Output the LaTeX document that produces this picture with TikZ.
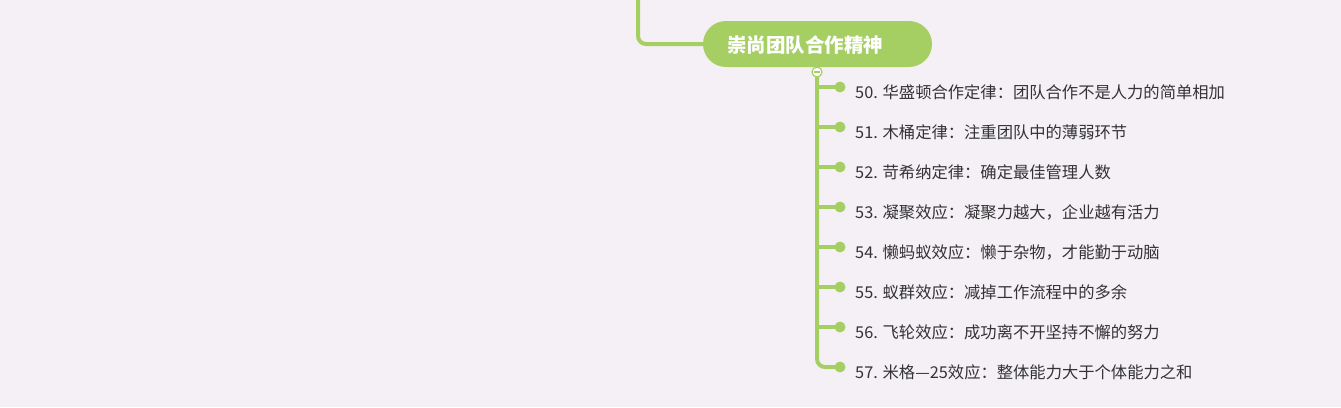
\documentclass[tikz,border=0pt]{standalone}
\usepackage{fontspec}
\setmainfont{Noto Sans CJK SC}
\newfontfamily\cjk{Noto Sans CJK SC}
\definecolor{bgc}{RGB}{244,240,246}
\definecolor{leaf}{RGB}{166,207,99}
\definecolor{txt}{RGB}{51,51,51}
\tikzset{
  conn/.style={draw=leaf,line width=4pt,rounded corners=8pt},
  branch/.style={draw=leaf,line width=3.5pt},
  dotnode/.style={circle,fill=leaf,inner sep=0pt,minimum size=11pt},
  item/.style={anchor=west,inner sep=0pt,text=txt,font=\cjk\fontsize{16.3}{18}\selectfont},
  topic/.style={rounded rectangle,fill=leaf,minimum width=229pt,minimum height=46pt,inner sep=0pt},
}
\usetikzlibrary{shapes.misc}
\begin{document}
\begin{tikzpicture}[x=1pt,y=-1pt]
\useasboundingbox[fill=bgc] (0,0) rectangle (1341,407);
\coordinate (up) at (638,0);
\node[topic] (main) at (817.5,44) {};
\node[anchor=west,inner sep=0pt,text=white,font=\cjk\bfseries\fontsize{19.5}{21}\selectfont] (maintext) at (727,45) {崇尚团队合作精神};
\draw[conn] (up) |- (main.west);
% trunk
\coordinate (trtop) at (817,72);
\foreach \i [count=\k from 0] in {50,...,57}{
  \node[dotnode] (d\i) at (840,87+40*\k) {};
}
\draw[conn] (trtop) |- (d57.center);
\foreach \i in {50,...,56}{
  \draw[branch] (817,0 |- d\i) -- (d\i.center);
}
\node[circle,draw=leaf,fill=white,line width=1.2pt,inner sep=0pt,minimum size=10pt] (col) at (trtop) {};
\draw[leaf,line width=1.2pt] ([xshift=-2.8pt]col.center) -- ([xshift=2.8pt]col.center);
\node[item] (t50) at (855,92) {50. 华盛顿合作定律：团队合作不是人力的简单相加};
\node[item] (t51) at (855,132) {51. 木桶定律：注重团队中的薄弱环节};
\node[item] (t52) at (855,172) {52. 苛希纳定律：确定最佳管理人数};
\node[item] (t53) at (855,212) {53. 凝聚效应：凝聚力越大，企业越有活力};
\node[item] (t54) at (855,252) {54. 懒蚂蚁效应：懒于杂物，才能勤于动脑};
\node[item] (t55) at (855,292) {55. 蚁群效应：减掉工作流程中的多余};
\node[item] (t56) at (855,332) {56. 飞轮效应：成功离不开坚持不懈的努力};
\node[item] (t57) at (855,372) {57. 米格—25效应：整体能力大于个体能力之和};
\end{tikzpicture}
\end{document}
